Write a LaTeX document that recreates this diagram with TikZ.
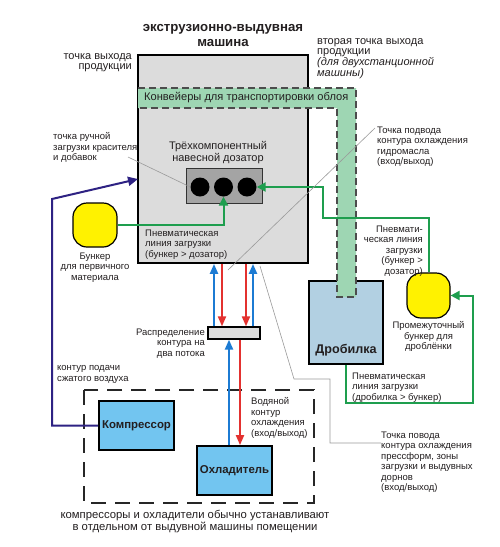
\documentclass[tikz,border=0pt]{standalone}
\usepackage{fontspec}
\setmainfont{Liberation Sans}
\usetikzlibrary{arrows.meta}
\definecolor{machgray}{HTML}{DCDCDC}
\definecolor{dozgray}{HTML}{A4A4A4}
\definecolor{convgreen}{HTML}{9ED6B3}
\definecolor{crushblue}{HTML}{B2D0E2}
\definecolor{unitblue}{HTML}{72C5F0}
\definecolor{pipegreen}{HTML}{1E9E4E}
\definecolor{waterblue}{HTML}{1C7BD3}
\definecolor{waterred}{HTML}{E3312F}
\definecolor{airnavy}{HTML}{2E2283}
\definecolor{leadgray}{HTML}{9A9A9A}
\definecolor{txt}{HTML}{231F20}
\newcommand\smalltxt{\fontsize{9.5}{10.5}\selectfont}
\newcommand\outtxt{\fontsize{11}{10}\selectfont}
\begin{document}
\begin{tikzpicture}[x=1pt,y=-1pt,
  every node/.style={text=txt, inner sep=0pt},
  unitbox/.style={draw=black, line width=1.8pt, minimum width=75pt, minimum height=49pt, fill=unitblue, font=\fontsize{11.4}{12}\selectfont\bfseries},
  bunker/.style={draw=black, line width=1.2pt, fill=yellow, rounded corners=14pt},
  cell/.style={circle, fill=black, minimum size=19pt},
  lbl/.style={font=\smalltxt},
  outlbl/.style={font=\outtxt},
  pipe/.style={draw=pipegreen, line width=2pt, -{Triangle[length=9pt,width=9pt]}},
  bluep/.style={draw=waterblue, line width=2.2pt, -{Triangle[length=10pt,width=8pt]}},
  redp/.style={draw=waterred, line width=2pt, -{Triangle[length=10pt,width=8pt]}},
  air/.style={draw=airnavy, line width=2pt, -{Triangle[length=10pt,width=9pt]}},
  leader/.style={draw=leadgray, line width=0.6pt},
  convedge/.style={draw=black!70, line width=1.3pt, dash pattern=on 7pt off 4pt}
]
\useasboundingbox (0,0) rectangle (500,547);
\fill[white] (0,0) rectangle (500,547);

% machine
\node[draw=black, line width=1.8pt, fill=machgray, minimum width=170pt, minimum height=208pt] (mach) at (223,159) {};

% crusher
\node[draw=black, line width=1.8pt, fill=crushblue, minimum width=74pt, minimum height=83pt] (crusher) at (346,322.5) {};
\node[font=\fontsize{12.6}{14}\selectfont\bfseries] (crushtxt) at (346,350) {Дробилка};

% conveyor
\fill[convgreen] (138,88) -- (356,88) -- (356,297) -- (337,297) -- (337,108) -- (138,108) -- cycle;
\draw[convedge] (138,88) -- (356,88) -- (356,297) -- (337,297) -- (337,108) -- (138,108);
\node[font=\fontsize{11.1}{12}\selectfont, anchor=west] (convtxt) at (144,98) {Конвейеры для транспортировки облоя};

% dozer
\node[draw=black!80, line width=1pt, fill=dozgray, minimum width=76pt, minimum height=35pt] (dozer) at (224,185.5) {};
\node[cell] (c1) at (200,187) {};
\node[cell] (c2) at (223.5,187) {};
\node[cell] (c3) at (247,187) {};
\node[font=\fontsize{11}{12}\selectfont, align=center] (doztxt) at (218,153) {Трёхкомпонентный\\навесной дозатор};

% bunkers
\node[bunker, minimum width=44pt, minimum height=44pt] (lbunker) at (95,225) {};
\node[bunker, minimum width=43pt, minimum height=45pt] (rbunker) at (428.5,295.5) {};

% distributor
\node[draw=black, line width=1.3pt, fill=machgray, minimum width=52pt, minimum height=12pt] (dist) at (234,333) {};

% compressor / chiller
\node[unitbox] (comp) at (136.5,425.5) {Компрессор};
\node[unitbox] (chill) at (234.5,470.5) {Охладитель};

% room
\draw[black!85, line width=2pt, dash pattern=on 15pt off 9pt] (84,390) rectangle (314,503);

% coordinates
\coordinate (g1) at (323,218);
\coordinate (g2) at (473,403);
\coordinate (n1) at (52,199);
\coordinate (airin) at (138,179);
\coordinate (xb1) at (214,0);
\coordinate (xr1) at (222,0);
\coordinate (xr2) at (246,0);
\coordinate (xb2) at (253,0);
\coordinate (xb3) at (229,0);
\coordinate (xr3) at (240,0);

% green pneumatic lines
\draw[pipe] (lbunker.east) -| (c2.south);
\draw[pipe] (rbunker.north) |- (g1) |- (c3.east);
\draw[pipe] (crusher.south) |- (g2) |- (rbunker.east);

% air line
\draw[air] (comp.west) -| (n1) -- (airin);

% water lines
\draw[bluep] (dist.north -| xb1) -- (mach.south -| xb1);
\draw[redp] (mach.south -| xr1) -- (dist.north -| xr1);
\draw[redp] (mach.south -| xr2) -- (dist.north -| xr2);
\draw[bluep] (dist.north -| xb2) -- (mach.south -| xb2);
\draw[bluep] (chill.north -| xb3) -- (dist.south -| xb3);
\draw[redp] (dist.south -| xr3) -- (chill.north -| xr3);

% texts
\node[font=\fontsize{13.2}{15}\selectfont\bfseries, align=center] (title) at (223,35.5) {экструзионно-выдувная\\машина};
\node[outlbl, align=right, anchor=north east] (out1) at (132,53) {точка выхода\\продукции};
\node[outlbl, align=left, anchor=north west] (out2) at (317,38) {вторая точка выхода\\продукции\\\textit{(для двухстанционной}\\\textit{машины)}};
\node[lbl, align=left, anchor=north west] (manual) at (53,132.5) {точка ручной\\загрузки красителя\\и добавок};
\node[lbl, align=left, anchor=north west] (pn1) at (145,229.5) {Пневматическая\\линия загрузки\\(бункер > дозатор)};
\node[lbl, align=center, anchor=north] (lbtxt) at (95,252.5) {Бункер\\для первичного\\материала};
\node[lbl, align=left, anchor=north west] (hydro) at (377,126.5) {Точка подвода\\контура охлаждения\\гидромасла\\(вход/выход)};
\node[lbl, align=right, anchor=north east] (pn2) at (423,225.5) {Пневмати-\\ческая линия\\загрузки\\(бункер >\\дозатор)};
\node[lbl, align=center, anchor=north] (rbtxt) at (428.5,321.5) {Промежуточный\\бункер для\\дроблёнки};
\node[lbl, align=left, anchor=north west] (pn3) at (352,372.5) {Пневматическая\\линия загрузки\\(дробилка > бункер)};
\node[lbl, align=right, anchor=north east] (disttxt) at (205,328.5) {Распределение\\контура на\\два потока};
\node[lbl, align=left, anchor=north west] (airtxt) at (57,365.5) {контур подачи\\сжатого воздуха};
\node[lbl, align=left, anchor=north west] (watertxt) at (251,397.5) {Водяной\\контур\\охлаждения\\(вход/выход)};
\node[lbl, align=left, anchor=north west] (mold) at (381,431.5) {Точка повода\\контура охлаждения\\прессформ, зоны\\загрузки и выдувных\\дорнов\\(вход/выход)};
\node[font=\fontsize{11.3}{12}\selectfont, align=center] (room) at (195,522) {компрессоры и охладители обычно устанавливают\\в отдельном от выдувной машины помещении};

% leader lines
\coordinate (l1a) at (128,157);
\draw[leader] (l1a) -- (c1.west);
\coordinate (l2a) at (375,128);
\coordinate (l2b) at (228,270);
\draw[leader] (l2a) -- (l2b);
\coordinate (l3a) at (260,266);
\coordinate (l3b) at (294,379);
\coordinate (l3c) at (330,379);
\coordinate (l3d) at (330,443);
\draw[leader] (l3a) -- (l3b) -- (l3c) -- (l3d) -- (mold.west |- l3d);
\end{tikzpicture}
\end{document}
